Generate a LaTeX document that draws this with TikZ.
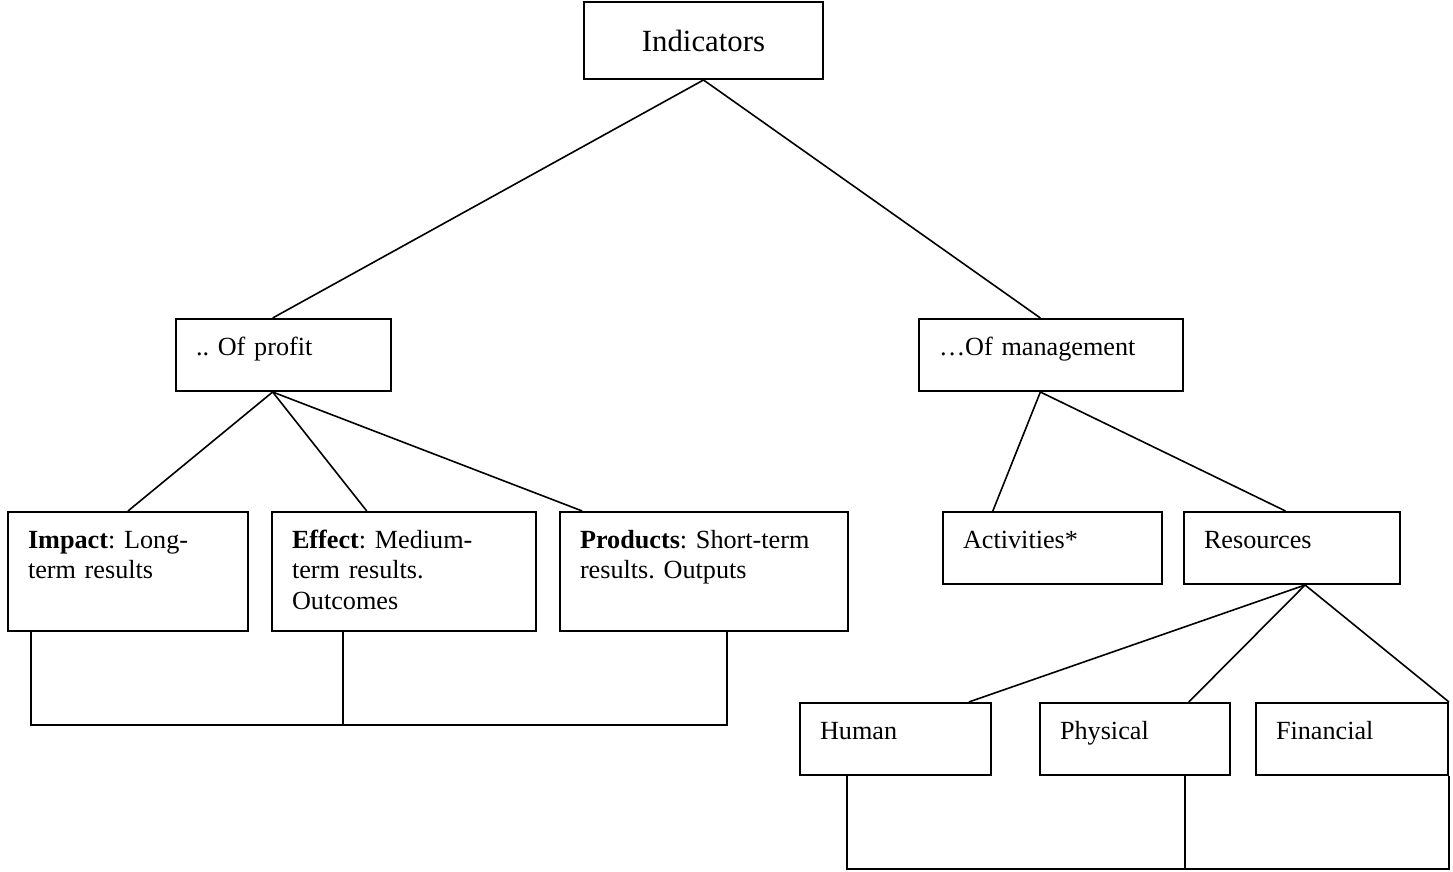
\documentclass[tikz,border=0pt]{standalone}
\usepackage{fontspec}
\setmainfont{Liberation Serif}
\usetikzlibrary{calc}
\begin{document}
\frenchspacing
\begin{tikzpicture}[
            x=0.5pt, y=-0.5pt,
            every node/.style={font=\fontsize{13.1}{15.3}\selectfont},
            box/.style={draw, line width=1pt, rectangle, anchor=north west, align=left,
                        inner xsep=10pt, inner ysep=0pt, text height=18pt},
            short/.style={box, text depth=18pt},
            tall/.style={box, text depth=41.5pt},
            link/.style={draw, line width=0.8pt}
            ]
            \useasboundingbox (0,0) rectangle (1453,872);
            \node[draw, line width=1pt, anchor=north west, minimum width=119.5pt, minimum height=38.5pt,
                  font=\fontsize{15.4}{18}\selectfont] (ind) at (583,1) {Indicators};
            \node[short, text width=87.5pt] (prof) at (175,318) {.. Of profit};
            \node[short, text width=112pt] (mgmt) at (918,318) {…Of management};
            \node[tall, text width=100pt] (imp) at (7,511) {\textbf{Impact}: Long-\\term results};
            \node[tall, text width=112pt] (eff) at (271,511) {\textbf{Effect}: Medium-\\term results.\\Outcomes};
            \node[tall, text width=124pt] (prod) at (559,511) {\textbf{Products}: Short-term\\results. Outputs};
            \node[short, text width=89.5pt] (act) at (942,511) {Activities*};
            \node[short, text width=88pt] (res) at (1183,511) {Resources};
            \node[short, text width=75.5pt] (hum) at (799,702) {Human};
            \node[short, text width=75pt] (phy) at (1039,702) {Physical};
            \node[short, text width=76pt] (fin) at (1255,702) {Financial};

            \coordinate (prof-up) at ($(prof.north west)!.45!(prof.north east)$);
            \coordinate (prof-low) at ($(prof.south west)!.45!(prof.south east)$);
            \coordinate (mgmt-up) at ($(mgmt.north west)!.46!(mgmt.north east)$);
            \coordinate (mgmt-low) at ($(mgmt.south west)!.46!(mgmt.south east)$);
            \coordinate (res-low) at ($(res.south west)!.56!(res.south east)$);
            \draw[link] (prof-up) -- (ind.south) -- (mgmt-up);
            \foreach \kid/\pos in {imp/.5, eff/.36, prod/.08}
              \draw[link] (prof-low) -- ($(\kid.north west)!\pos!(\kid.north east)$);
            \foreach \kid/\pos in {act/.23, res/.47}
              \draw[link] (mgmt-low) -- ($(\kid.north west)!\pos!(\kid.north east)$);
            \foreach \kid/\pos in {hum/.88, phy/.78, fin/1}
              \draw[link] (res-low) -- ($(\kid.north west)!\pos!(\kid.north east)$);

            \coordinate (imp-foot) at ($(imp.south west)!.1!(imp.south east)$);
            \coordinate (eff-foot) at ($(eff.south west)!.27!(eff.south east)$);
            \coordinate (prod-foot) at ($(prod.south west)!.58!(prod.south east)$);
            \coordinate (left-bar) at (0,725);
            \draw[link] (imp-foot) |- (prod-foot |- left-bar) -- (prod-foot);
            \draw[link] (eff-foot) -- (eff-foot |- left-bar);

            \coordinate (hum-foot) at ($(hum.south west)!.25!(hum.south east)$);
            \coordinate (phy-foot) at ($(phy.south west)!.76!(phy.south east)$);
            \coordinate (right-bar) at (0,869);
            \draw[link] (hum-foot) |- (fin.south east |- right-bar) -- (fin.south east);
            \draw[link] (phy-foot) -- (phy-foot |- right-bar);
        \end{tikzpicture}
\end{document}
